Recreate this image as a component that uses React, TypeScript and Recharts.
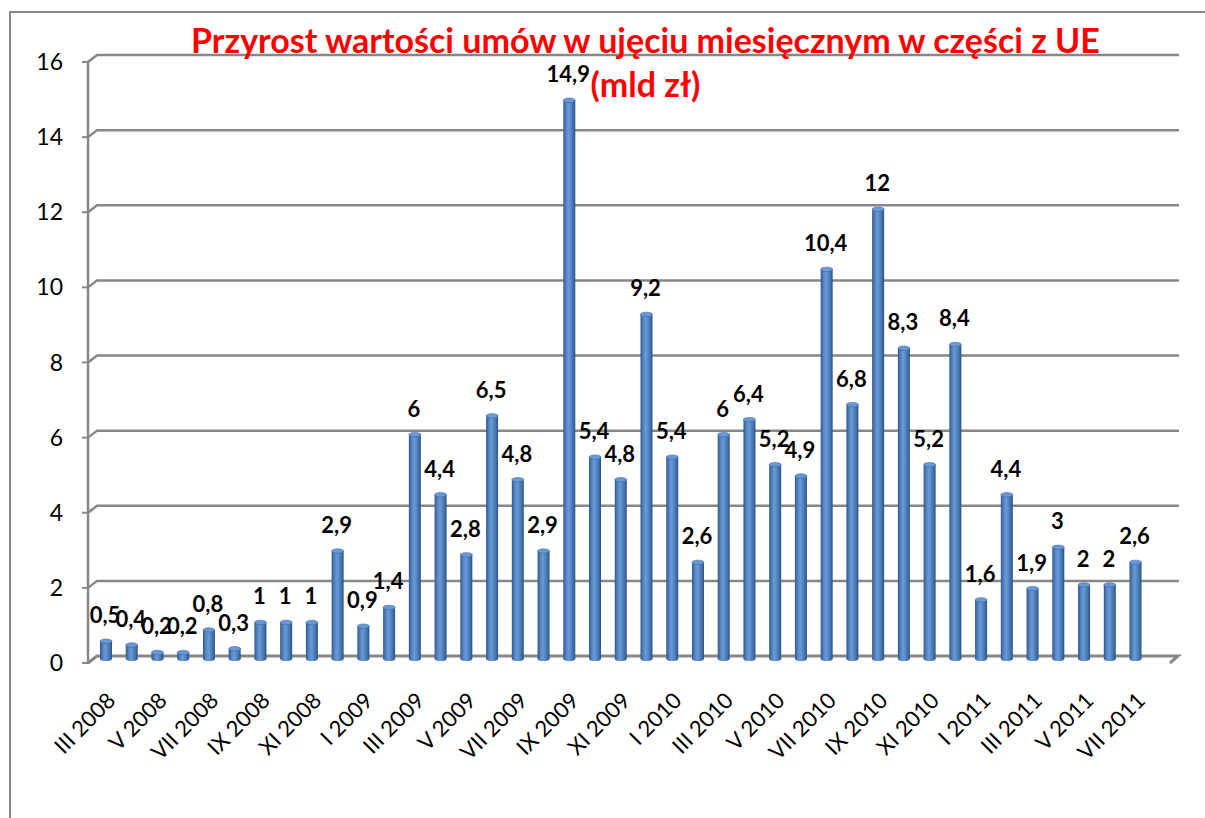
import React from 'react';
import { BarChart, Bar, XAxis, YAxis, CartesianGrid, LabelList, Text } from 'recharts';

const months = [
  'III 2008', 'IV 2008', 'V 2008', 'VI 2008', 'VII 2008', 'VIII 2008', 'IX 2008', 'X 2008', 'XI 2008', 'XII 2008',
  'I 2009', 'II 2009', 'III 2009', 'IV 2009', 'V 2009', 'VI 2009', 'VII 2009', 'VIII 2009', 'IX 2009', 'X 2009', 'XI 2009', 'XII 2009',
  'I 2010', 'II 2010', 'III 2010', 'IV 2010', 'V 2010', 'VI 2010', 'VII 2010', 'VIII 2010', 'IX 2010', 'X 2010', 'XI 2010', 'XII 2010',
  'I 2011', 'II 2011', 'III 2011', 'IV 2011', 'V 2011', 'VI 2011', 'VII 2011', 'VIII 2011',
];

const increase = [
  0.5, 0.4, 0.2, 0.2, 0.8, 0.3, 1, 1, 1, 2.9,
  0.9, 1.4, 6, 4.4, 2.8, 6.5, 4.8, 2.9, 14.9, 5.4, 4.8, 9.2,
  5.4, 2.6, 6, 6.4, 5.2, 4.9, 10.4, 6.8, 12, 8.3, 5.2, 8.4,
  1.6, 4.4, 1.9, 3, 2, 2, 2.6, null,
];

const yTicks = [0, 2, 4, 6, 8, 10, 12, 14, 16];
// category boundaries (0..42) for the little tick marks between months
const boundaryTicks = months.map((_, i) => i).concat(months.length);

const data = months.map((m, i) => ({ month: m, value: increase[i] }));

const W = 1205;
const H = 818;
const M = { top: 59, right: 35, bottom: 58, left: 29 };
const Y_W = 60;
const X_H = 100;
const PLOT_LEFT = M.left + Y_W;

const axisGray = '#878787';
const font = 'Lato, "Open Sans", sans-serif';

const fmt = (v: number) => String(v).replace('.', ',');

// back-wall gridlines with a small 3D bevel at the left end
const GridLine = (props: any) => {
  const { x1, x2, y1 } = props;
  const isFloor = Math.abs(y1 - (H - M.bottom - X_H)) < 1;
  const d = isFloor
    ? `M${x1 - 1},${y1 + 3} L${x1 + 8},${y1 - 4} L${x2 + 8},${y1 - 4} L${x2},${y1 + 3}`
    : `M${x1 - 1},${y1 + 3} L${x1 + 8},${y1 - 4} L${x2 + 9},${y1 - 4}`;
  return <path key={props.key} d={d} stroke={axisGray} strokeWidth={isFloor ? 3 : 2.5} fill="none" />;
};

const YTick = (props: any) => {
  const { y, payload } = props;
  return (
    <g>
      <line x1={PLOT_LEFT - 7} x2={PLOT_LEFT} y1={y + 3} y2={y + 3} stroke={axisGray} strokeWidth={2} />
      <text x={63} y={y + 11} textAnchor="end" fontSize={23} fontFamily={font} fill="#000">
        {payload.value}
      </text>
    </g>
  );
};

const MonthTick = (props: any) => {
  const { x, y, payload, index } = props;
  if (index % 2 !== 0) return <g />;
  return (
    <Text
      x={x + 4}
      y={y}
      angle={-45}
      textAnchor="end"
      verticalAnchor="start"
      fontSize={22}
      fontFamily={font}
      fill="#000"
    >
      {payload.value}
    </Text>
  );
};

const Cylinder = (props: any) => {
  const { x, y, width, height, value } = props;
  if (value == null || height <= 0) return null;
  const cx = x + width / 2 + 4;
  const r = 6;
  return (
    <g>
      <rect x={cx - r} y={y} width={r * 2} height={height - 1} fill="url(#cyl)" />
      <ellipse cx={cx} cy={y + height - 1} rx={r} ry={2} fill="url(#cyl)" />
      <ellipse cx={cx} cy={y} rx={r} ry={2.2} fill="#6a98d2" stroke="#3d6aa3" strokeWidth={0.6} />
    </g>
  );
};

const ValueLabel = (props: any) => {
  const { x, y, width, value } = props;
  if (value == null) return null;
  return (
    <text x={x + width / 2 + 3} y={y - 18} textAnchor="middle" fontSize={22} fontWeight="bold" fontFamily={font} fill="#000">
      {fmt(value)}
    </text>
  );
};

export default function App() {
  return (
    <div style={{ position: 'relative', width: W, height: H, background: '#fff', overflow: 'hidden' }}>
      <style>{'body{margin:0;overflow:hidden;}'}</style>
      <div
        style={{ position: 'absolute', left: 9, top: 11, width: 1210, height: 840, border: `2px solid ${axisGray}`, boxSizing: 'border-box' }}
      />
      <BarChart width={W} height={H} data={data} margin={M} barSize={12} style={{ position: 'absolute', left: 0, top: 0 }}>
        <defs>
          <linearGradient id="cyl" x1="0" y1="0" x2="1" y2="0">
            <stop offset="0%" stopColor="#2d5789" />
            <stop offset="22%" stopColor="#5282c0" />
            <stop offset="45%" stopColor="#6a9ad6" />
            <stop offset="75%" stopColor="#4a7ab6" />
            <stop offset="100%" stopColor="#2b5384" />
          </linearGradient>
        </defs>
        <CartesianGrid vertical={false} horizontal={GridLine} />
        <YAxis
          width={Y_W}
          domain={[0, 16]}
          ticks={yTicks}
          interval={0}
          tickLine={false}
          axisLine={{ stroke: axisGray, strokeWidth: 2.5, transform: 'translate(-1,3)' }}
          tick={YTick}
        />
        <XAxis
          xAxisId="marks"
          type="number"
          domain={[0, months.length]}
          ticks={boundaryTicks}
          interval={0}
          height={0}
          tick={false}
          tickSize={7}
          tickLine={{ stroke: axisGray, strokeWidth: 2, transform: 'translate(0,3)' }}
          axisLine={{ stroke: axisGray, strokeWidth: 2.5, transform: 'translate(0,3)' }}
          allowDataOverflow
        />
        <XAxis dataKey="month" height={X_H} interval={0} axisLine={false} tickLine={false} tickSize={6} tickMargin={25} tick={MonthTick} />
        <Bar dataKey="value" shape={Cylinder} isAnimationActive={false}>
          <LabelList dataKey="value" content={ValueLabel} />
        </Bar>
      </BarChart>
      <div
        style={{
          position: 'absolute', left: 0, width: W, top: 18, paddingLeft: 86, boxSizing: 'border-box', textAlign: 'center',
          color: '#ff0000', fontFamily: font, fontWeight: 'bold', fontSize: 34, lineHeight: '44px', pointerEvents: 'none',
        }}
      >
        Przyrost wartości umów w ujęciu miesięcznym w części z UE
        <br />
        (mld zł)
      </div>
    </div>
  );
}
